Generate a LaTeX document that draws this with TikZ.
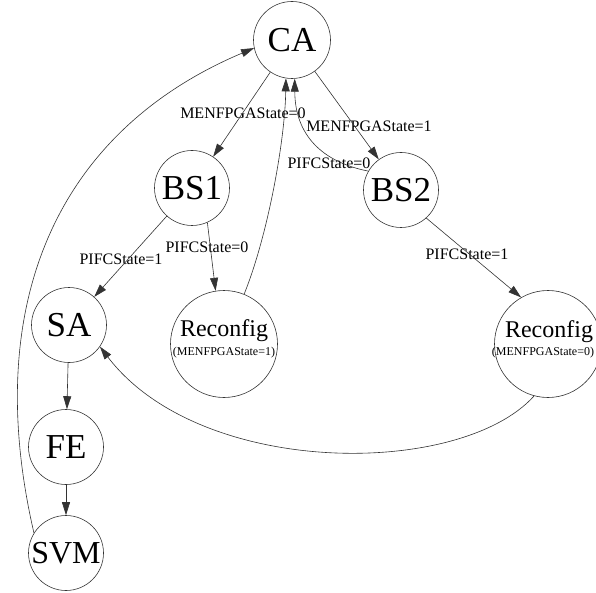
\documentclass[tikz,border=0pt]{standalone}
\usepackage{fontspec}
\setmainfont{Liberation Serif}
\usetikzlibrary{arrows.meta}
\begin{document}
\begin{tikzpicture}[x=1pt,y=-1pt,
 state/.style={circle,draw=black!80,line width=0.6pt,inner sep=0pt,minimum size=75pt,font=\fontsize{35}{35}\selectfont},
 recon/.style={circle,draw=black!80,line width=0.6pt,inner sep=0pt,minimum size=107pt},
 rtxt/.style={inner sep=0pt,font=\fontsize{24}{24}\selectfont},
 rsub/.style={inner sep=0pt,font=\fontsize{12}{12}\selectfont},
 lbl/.style={inner sep=0pt,font=\fontsize{16}{16}\selectfont},
 edge/.style={draw=black!80,line width=0.6pt,-{Triangle[length=13pt,width=8pt]}}]
\useasboundingbox (0,0) rectangle (596,593);
\node[state,minimum size=77pt] (CA) at (292,40) {CA};
\node[state] (BS1) at (192,188) {BS1};
\node[state] (BS2) at (401,190) {BS2};
\node[state] (SA) at (69,325) {SA};
\node[state] (FE) at (66,447) {FE};
\node[state,font=\fontsize{32}{32}\selectfont] (SVM) at (66,553) {SVM};
\node[recon] (R1) at (224,344) {};
\node[rtxt] (R1t) at (224,331) {Reconfig};
\node[rsub] (R1s) at (224,353) {(MENFPGAState=1)};
\node[recon] (R2) at (548,344) {};
\node[rtxt] (R2t) at (549,332) {Reconfig};
\node[rsub] (R2s) at (543,353) {(MENFPGAState=0)};
% labels
\node[lbl] (L1) at (243,113) {MENFPGAState=0};
\node[lbl] (L2) at (369,126) {MENFPGAState=1};
\node[lbl] (L3) at (329,163) {PIFCState=0};
\node[lbl] (L4) at (207,247) {PIFCState=0};
\node[lbl] (L5) at (121,259) {PIFCState=1};
\node[lbl] (L6) at (467,254) {PIFCState=1};
% edges
\draw[edge] (CA) -- (BS1);
\draw[edge] (CA) -- (BS2);
\draw[edge] (BS1) -- (SA);
\draw[edge] (BS1.-66) -- (R1.99);
\draw[edge] (BS2.-48) -- (R2.120);
\draw[edge] (SA) -- (FE);
\draw[edge] (FE) -- (SVM);
\draw[edge] (R1.68) .. controls (268,235) and (285,140) .. (CA.-99);
\draw[edge] (BS2.150) .. controls (322,162) and (295,135) .. (CA.-86);
\draw[edge] (R2.-105) .. controls (460,478) and (200,478) .. (SA.-35);
\draw[edge] (SVM.148) .. controls (-20,300) and (60,130) .. (CA.192);
\end{tikzpicture}
\end{document}
